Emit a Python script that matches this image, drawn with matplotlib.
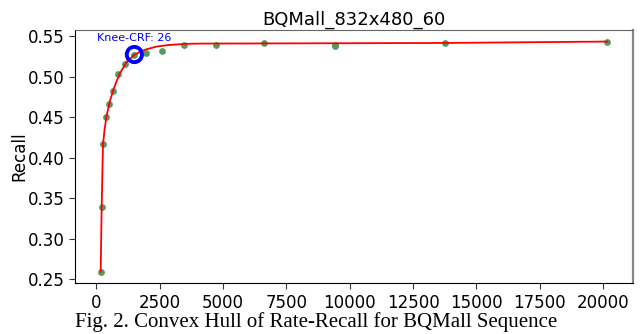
import numpy as np
import matplotlib
matplotlib.use("Agg")
import matplotlib.pyplot as plt

# measured points (rate, recall)
rate = [170, 209, 261, 367, 486, 656, 855, 1145, 1500, 1974, 2606, 3458,
        4722, 6617, 9408, 9408, 13763, 20174]
recall = [0.2593, 0.3397, 0.4165, 0.4504, 0.4669, 0.4820, 0.5033, 0.5152,
          0.5275, 0.5300, 0.5324, 0.5398, 0.5389, 0.5414, 0.5377, 0.5388,
          0.5414, 0.5435]

# convex hull curve
hull_x = [170, 209, 261, 328, 395, 525, 683, 920, 1184, 1512, 1907, 2369,
          2894, 3553, 4078, 6617, 9408, 13763, 20174]
hull_y = [0.2593, 0.3397, 0.4165, 0.4357, 0.4504, 0.4689, 0.4853, 0.5038,
          0.5180, 0.5275, 0.5333, 0.5373, 0.5394, 0.5407, 0.5410, 0.5412,
          0.5414, 0.5418, 0.5435]

knee_x, knee_y, knee_crf = 1500, 0.5275, 26
title = "BQMall_832x480_60"
caption = "Fig. 2. Convex Hull of Rate-Recall for BQMall Sequence"

fig = plt.figure(figsize=(6.44, 3.34), dpi=100)
ax = fig.add_axes([0.117, 0.152, 0.8655, 0.758])

ax.scatter(rate, recall, s=24, color="#4f9e5f", zorder=2, linewidths=0)
ax.plot(hull_x, hull_y, color="red", lw=1.3, zorder=3)
ax.scatter([knee_x], [knee_y], s=120, facecolors="none", edgecolors="blue",
           linewidths=2.8, zorder=4)
ax.annotate("Knee-CRF: {}".format(knee_crf), (knee_x, knee_y),
            xytext=(0, 8.5), textcoords="offset points", ha="center",
            va="bottom", color="blue", fontsize=8)

ax.set_title(title, fontsize=13, pad=4)
ax.set_ylabel("Recall", fontsize=12, labelpad=0)
ax.set_xticks(np.arange(0, 20001, 2500))
ax.set_yticks([0.25, 0.30, 0.35, 0.40, 0.45, 0.50, 0.55])
ax.set_yticklabels(["0.25", "0.30", "0.35", "0.40", "0.45", "0.50", "0.55"])
ax.tick_params(labelsize=12, length=4, color="#333333")

ax.spines["top"].set_color("#666666")
ax.spines["right"].set_color("#888888")
ax.spines["right"].set_linewidth(1.6)

fig.text(0.491, 0.036, caption, ha="center", va="center",
         family="Liberation Serif", fontsize=15)

fig.savefig("out.png", dpi=100)
